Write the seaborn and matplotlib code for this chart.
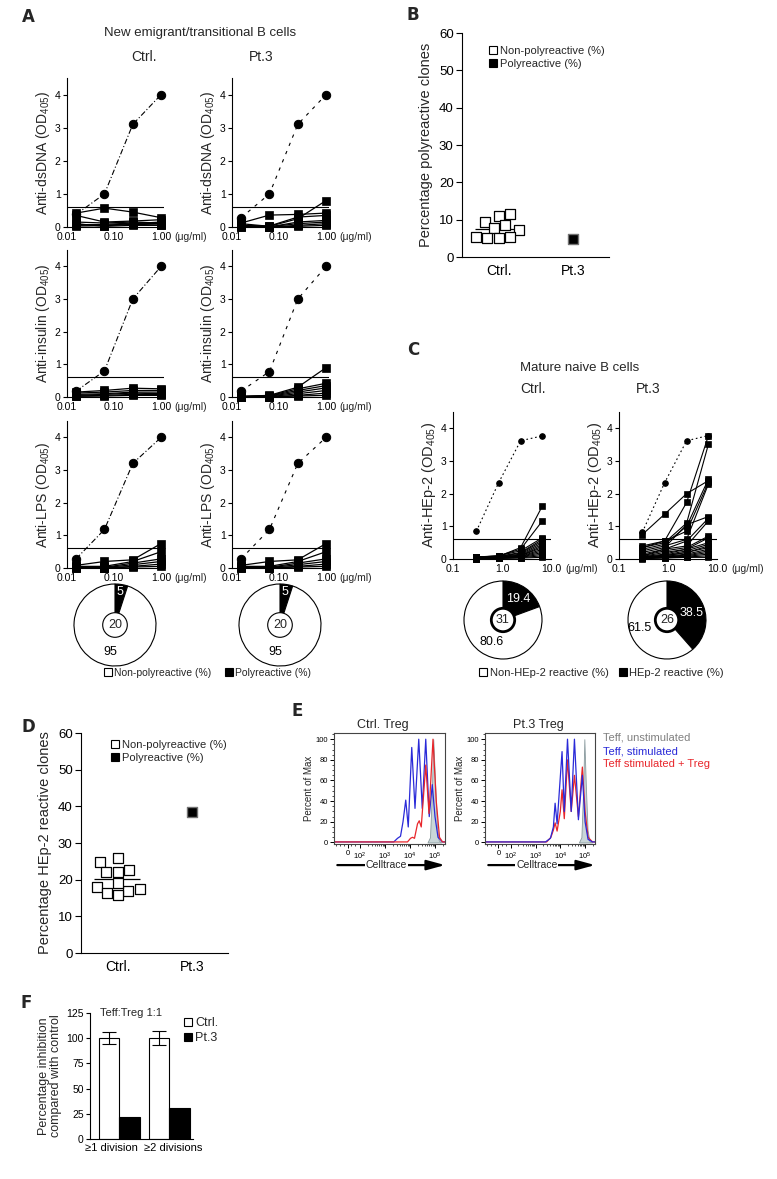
import numpy as np
import pandas as pd
import matplotlib
matplotlib.use("Agg")
import matplotlib.pyplot as plt
import seaborn as sns
from matplotlib.lines import Line2D
from matplotlib.patches import Circle
from matplotlib.ticker import NullLocator, FixedLocator, MultipleLocator

sns.set_style("ticks")
plt.rcParams["font.family"] = ["Liberation Sans", "DejaVu Sans"]
plt.rcParams["mathtext.default"] = "regular"
plt.rcParams["axes.linewidth"] = 0.8
plt.rcParams["axes.edgecolor"] = "black"
plt.rcParams["xtick.color"] = "black"
plt.rcParams["ytick.color"] = "black"

W, H = 777, 1179

# ---------------- data ----------------
# A: new emigrant/transitional B cells (OD405 vs antibody concentration)
a_conc = [0.0156, 0.0625, 0.25, 1.0]
dsdna_ctrl_pos = [0.38, 1.0, 3.1, 4.0]
dsdna_ctrl_clones = [
    [0.42, 0.57, 0.45, 0.28],
    [0.35, 0.15, 0.18, 0.22],
    [0.15, 0.12, 0.15, 0.12],
    [0.08, 0.05, 0.10, 0.15],
    [0.05, 0.08, 0.12, 0.10],
    [0.10, 0.02, 0.05, 0.05],
    [0.03, 0.04, 0.08, 0.06],
]
dsdna_pt_pos = [0.28, 1.0, 3.1, 4.0]
dsdna_pt_clones = [
    [0.12, 0.36, 0.38, 0.42],
    [0.10, 0.02, 0.25, 0.80],
    [0.05, 0.03, 0.30, 0.35],
    [0.03, 0.00, 0.15, 0.20],
    [0.02, 0.01, 0.10, 0.15],
    [0.01, 0.00, 0.05, 0.10],
    [0.00, 0.00, 0.02, 0.05],
]
insulin_ctrl_pos = [0.18, 0.80, 3.0, 4.0]
insulin_ctrl_clones = [
    [0.15, 0.20, 0.27, 0.25],
    [0.12, 0.15, 0.20, 0.20],
    [0.08, 0.10, 0.15, 0.15],
    [0.05, 0.08, 0.12, 0.10],
    [0.03, 0.05, 0.08, 0.08],
    [0.02, 0.03, 0.05, 0.05],
]
insulin_pt_pos = [0.18, 0.78, 3.0, 4.0]
insulin_pt_clones = [
    [0.02, 0.05, 0.30, 0.90],
    [0.02, 0.04, 0.25, 0.42],
    [0.01, 0.03, 0.20, 0.35],
    [0.01, 0.02, 0.15, 0.28],
    [0.00, 0.01, 0.10, 0.20],
    [0.00, 0.00, 0.05, 0.12],
    [0.00, 0.00, 0.03, 0.05],
]
lps_ctrl_pos = [0.28, 1.18, 3.2, 4.0]
lps_ctrl_clones = [
    [0.08, 0.20, 0.25, 0.75],
    [0.05, 0.05, 0.20, 0.50],
    [0.03, 0.02, 0.15, 0.28],
    [0.02, 0.01, 0.10, 0.20],
    [0.01, 0.00, 0.05, 0.12],
    [0.00, 0.00, 0.03, 0.05],
]
lps_pt_pos = [0.28, 1.18, 3.2, 4.0]
lps_pt_clones = [
    [0.08, 0.20, 0.25, 0.75],
    [0.05, 0.05, 0.20, 0.50],
    [0.03, 0.02, 0.15, 0.28],
    [0.02, 0.01, 0.10, 0.20],
    [0.01, 0.00, 0.05, 0.12],
    [0.00, 0.00, 0.03, 0.05],
]
a_pie_ctrl = [5, 95]
a_pie_pt = [5, 95]
a_n_ctrl, a_n_pt = "20", "20"

# B: percentage polyreactive clones
b_ctrl = [11.1, 9.5, 11.4, 8.5, 7.7, 7.2, 5.3, 5.3, 5.0, 5.0]
b_pt = [4.8]

# C: mature naive B cells, anti-HEp-2
c_conc = [0.3, 0.85, 2.4, 6.7]
hep_ctrl_pos = [0.85, 2.33, 3.62, 3.77]
hep_ctrl_clones = [
    [0.07, 0.08, 0.35, 1.63],
    [0.06, 0.10, 0.30, 1.17],
    [0.05, 0.10, 0.25, 0.65],
    [0.05, 0.08, 0.20, 0.60],
    [0.04, 0.07, 0.18, 0.55],
    [0.04, 0.06, 0.15, 0.50],
    [0.03, 0.06, 0.12, 0.45],
    [0.03, 0.05, 0.10, 0.40],
    [0.03, 0.05, 0.10, 0.35],
    [0.02, 0.04, 0.08, 0.30],
    [0.02, 0.04, 0.07, 0.25],
    [0.02, 0.03, 0.06, 0.20],
    [0.01, 0.03, 0.05, 0.15],
    [0.01, 0.02, 0.04, 0.10],
    [0.01, 0.02, 0.03, 0.05],
]
hep_pt_pos = [0.82, 2.33, 3.62, 3.78]
hep_pt_clones = [
    [0.75, 1.37, 2.00, 2.40],
    [0.40, 0.55, 1.73, 3.78],
    [0.35, 0.50, 1.10, 3.52],
    [0.30, 0.45, 1.00, 2.45],
    [0.35, 0.55, 0.85, 2.35],
    [0.25, 0.40, 0.60, 2.30],
    [0.20, 0.35, 1.05, 1.30],
    [0.15, 0.30, 0.55, 1.25],
    [0.10, 0.30, 0.40, 1.17],
    [0.10, 0.25, 0.35, 0.70],
    [0.08, 0.20, 0.30, 0.65],
    [0.07, 0.15, 0.30, 0.50],
    [0.06, 0.12, 0.25, 0.45],
    [0.05, 0.10, 0.20, 0.40],
    [0.05, 0.10, 0.20, 0.35],
    [0.04, 0.08, 0.15, 0.30],
    [0.03, 0.07, 0.12, 0.25],
    [0.03, 0.06, 0.10, 0.20],
    [0.02, 0.05, 0.08, 0.15],
    [0.02, 0.04, 0.06, 0.10],
    [0.01, 0.03, 0.05, 0.05],
]
c_pie_ctrl = [19.4, 80.6]
c_pie_pt = [38.5, 61.5]
c_n_ctrl, c_n_pt = "31", "26"

# D: percentage HEp-2 reactive clones
d_ctrl = [24.7, 22.2, 25.8, 22.2, 22.7, 17.0, 18.0, 19.0, 17.4, 15.7, 16.3]
d_pt = [38.5]

# E: Celltrace dilution histograms (x in log10 decades, y percent of max)
e_ctrl_blue_x = [0.96, 3.35, 3.5, 3.62, 3.72, 3.83, 3.93, 4.07, 4.2, 4.35, 4.49, 4.63, 4.77, 4.89, 5.0, 5.12, 5.3, 5.4]
e_ctrl_blue_y = [0.5, 0.5, 4, 6, 20, 41, 15, 92, 33, 100, 33, 100, 25, 56, 25, 5, 0.5, 0.5]
e_ctrl_red_x = [0.96, 3.9, 4.02, 4.1, 4.18, 4.3, 4.37, 4.45, 4.63, 4.76, 4.92, 5.05, 5.18, 5.3, 5.4]
e_ctrl_red_y = [0.5, 0.5, 4, 5, 4, 18, 21, 15, 75, 28, 100, 40, 5, 0.5, 0.5]
e_ctrl_gray_x = [4.7, 4.8, 4.87, 4.93, 5.0, 5.08, 5.15, 5.25]
e_ctrl_gray_y = [0, 5, 45, 100, 60, 15, 2, 0]
e_pt_blue_x = [0.96, 3.4, 3.6, 3.72, 3.79, 3.87, 4.07, 4.16, 4.29, 4.44, 4.57, 4.73, 4.89, 5.0, 5.12, 5.3, 5.4]
e_pt_blue_y = [0.5, 0.5, 4, 15, 38, 18, 88, 30, 100, 30, 100, 22, 65, 20, 3, 0.5, 0.5]
e_pt_red_x = [0.96, 3.45, 3.62, 3.72, 3.79, 3.87, 4.0, 4.07, 4.16, 4.29, 4.44, 4.57, 4.73, 4.89, 5.0, 5.12, 5.3, 5.4]
e_pt_red_y = [0.5, 0.5, 5, 12, 19, 11, 30, 51, 23, 80, 30, 65, 25, 73, 30, 5, 0.5, 0.5]
e_pt_gray_x = [4.75, 4.85, 4.92, 4.97, 5.03, 5.1, 5.18, 5.28]
e_pt_gray_y = [0, 5, 50, 100, 55, 12, 1, 0]

# F: percentage inhibition
f_division = ["\u22651 division", "\u22652 divisions"]
f_ctrl = [100, 100]
f_ctrl_sd = [6, 7]
f_pt = [22, 31]

# ---------------- helpers ----------------
fig = plt.figure(figsize=(W / 100, H / 100), dpi=100)


def add_ax(l, t, r, b):
    return fig.add_axes([l / W, 1 - b / H, (r - l) / W, (b - t) / H])


def ftext(x, y, s, **kw):
    kw.setdefault("ha", "center")
    kw.setdefault("va", "center")
    fig.text(x / W, 1 - y / H, s, **kw)


def clone_frame(conc, clones):
    rows = [(i, c, v) for i, vals in enumerate(clones) for c, v in zip(conc, vals)]
    return pd.DataFrame(rows, columns=["clone", "conc", "od"])


def elisa(ax, conc, pos, clones, xlim, xticks, xticklabels, ylabel,
          sq, circ, lw, pos_ls, unit_off, ylab_fs):
    ax.set_xscale("log")
    ax.axhline(0.6, color="black", lw=0.8, zorder=1)
    sns.lineplot(x=conc, y=pos, color="black", lw=0.8, linestyle=pos_ls,
                 marker="o", markersize=circ, markeredgecolor="black",
                 clip_on=False, ax=ax)
    sns.lineplot(data=clone_frame(conc, clones), x="conc", y="od", units="clone",
                 estimator=None, color="black", lw=lw, marker="s", markersize=sq,
                 markeredgecolor="black", markeredgewidth=0.5, clip_on=False,
                 legend=False, ax=ax)
    ax.set_xlim(xlim)
    ax.set_ylim(0, 4.5)
    ax.set_yticks([0, 1, 2, 3, 4])
    ax.set_xticks(xticks)
    ax.set_xticklabels(xticklabels)
    ax.xaxis.set_minor_locator(NullLocator())
    ax.tick_params(axis="x", length=0, pad=3.5, labelsize=7.5)
    ax.tick_params(axis="y", length=3, width=0.8, pad=1.5, labelsize=7.5)
    ax.set_xlabel("")
    ax.set_ylabel(ylabel, fontsize=ylab_fs, labelpad=2)
    ax.annotate("(\u03bcg/ml)", xy=(xticks[-1], 0), xycoords=("data", "axes fraction"),
                xytext=(unit_off, -3.5), textcoords="offset points", ha="left",
                va="top", fontsize=7.5)
    sns.despine(ax=ax)


def pie(cx, cy, r, values, center, inner_lw, labels):
    rb = r * 1.04
    ax = add_ax(cx - rb, cy - rb, cx + rb, cy + rb)
    ax.pie(values, colors=["black", "white"], startangle=90, counterclock=False,
           radius=1, wedgeprops=dict(edgecolor="black", linewidth=0.8))
    ax.add_patch(Circle((0, 0), 0.3, facecolor="white", edgecolor="black",
                        lw=inner_lw, zorder=5))
    ax.text(0, 0, center, ha="center", va="center", fontsize=9, zorder=6)
    for (x, y, s, col) in labels:
        ax.text(x, y, s, ha="center", va="center", color=col, fontsize=9, zorder=6)
    ax.set_xlim(-1.04, 1.04)
    ax.set_ylim(-1.04, 1.04)
    ax.set_aspect("equal")
    ax.axis("off")


def scatter_panel(ax, ctrl_vals, pt_vals, ylabel):
    df = pd.DataFrame({"group": ["Ctrl."] * len(ctrl_vals) + ["Pt.3"] * len(pt_vals),
                       "value": ctrl_vals + pt_vals})
    order = ["Ctrl.", "Pt.3"]
    ax.hlines(np.mean(ctrl_vals), -0.33, 0.3, color="black", lw=0.9, zorder=1)
    sns.swarmplot(data=df[df.group == "Ctrl."], x="group", y="value", order=order,
                  marker="s", size=7, color="white", edgecolor="black", linewidth=0.9,
                  ax=ax, zorder=3)
    ax.collections[-1].set_facecolor("none")
    ax.collections[-1].set_edgecolor("black")
    sns.swarmplot(data=df[df.group == "Pt.3"], x="group", y="value", order=order,
                  marker="s", size=7, color="black", edgecolor="0.45", linewidth=1.0,
                  ax=ax, zorder=3)
    ax.collections[-1].set_facecolor("black")
    ax.collections[-1].set_edgecolor("0.45")
    ax.set_xlim(-0.5, 1.49)
    ax.set_ylim(0, 60)
    ax.set_yticks(range(0, 61, 10))
    ax.tick_params(axis="x", length=0, pad=5, labelsize=10)
    ax.tick_params(axis="y", length=4, width=0.8, pad=2, labelsize=9.5)
    ax.set_xlabel("")
    ax.set_ylabel(ylabel, fontsize=10.5, labelpad=4)
    sns.despine(ax=ax)


def sq_handle(face):
    return Line2D([], [], ls="", marker="s", markerfacecolor=face,
                  markeredgecolor="black", markersize=6, markeredgewidth=0.8)


def legend_at(target, x, y, labels, fs, faces=("white", "black"), **kw):
    target.legend([sq_handle(f) for f in faces], labels, loc=kw.pop("loc", "upper left"),
                  bbox_to_anchor=(x / W, 1 - y / H), bbox_transform=fig.transFigure,
                  frameon=False, fontsize=fs, handletextpad=0.15, handlelength=0.9,
                  borderpad=0, borderaxespad=0, labelspacing=0.25, **kw)


def flow(ax, gray, first, second):
    ax.fill_between(gray[0], gray[1], color="#c9d6d8", edgecolor="#8a9a9e", lw=0.6)
    for xs, ys, col in (first, second):
        sns.lineplot(x=xs, y=ys, color=col, lw=0.9, sort=False, ax=ax)
    ax.set_xlim(0.96, 5.4)
    ax.set_ylim(-1.5, 106)
    ax.set_xticks([1.5, 2, 3, 4, 5])
    ax.set_xticklabels(["0", "$10^2$", "$10^3$", "$10^4$", "$10^5$"])
    minors = [d + np.log10(k) for d in (2, 3, 4, 5) for k in range(2, 10)
              if d + np.log10(k) < 5.4] + [1.05, 1.2, 1.35, 1.65, 1.8]
    ax.xaxis.set_minor_locator(FixedLocator(minors))
    ax.set_yticks(range(0, 101, 20))
    ax.yaxis.set_minor_locator(MultipleLocator(5))
    ax.tick_params(which="major", length=3, width=0.7, pad=1.5, labelsize=5.5)
    ax.tick_params(which="minor", length=1.5, width=0.5)
    ax.set_ylabel("Percent of Max", fontsize=7, labelpad=1)
    ax.set_xlabel("")
    for sp in ax.spines.values():
        sp.set_color("#444444")
        sp.set_linewidth(0.8)
    ax.annotate("", xy=(1.0, -0.19), xytext=(0.03, -0.19), xycoords="axes fraction",
                arrowprops=dict(arrowstyle="-|>,head_length=1.1,head_width=0.3",
                                lw=1.6, color="black", mutation_scale=10,
                                shrinkA=0, shrinkB=0))
    ax.text(0.47, -0.19, "Celltrace", transform=ax.transAxes, ha="center", va="center",
            fontsize=7.5, bbox=dict(facecolor="white", edgecolor="none", pad=0.6))


# ---------------- panel A ----------------
ftext(28, 17, "A", fontsize=12, fontweight="heavy", family="DejaVu Sans")
ftext(200, 33, "New emigrant/transitional B cells", fontsize=9.5)
ftext(144, 57, "Ctrl.", fontsize=10)
ftext(261, 57, "Pt.3", fontsize=10)

a_rows = [(78, 227), (250, 397), (421, 568)]
a_cols = [(67, 164), (232, 329)]
a_sets = [
    ("Anti-dsDNA (OD$_{405}$)", (dsdna_ctrl_pos, dsdna_ctrl_clones), (dsdna_pt_pos, dsdna_pt_clones)),
    ("Anti-insulin (OD$_{405}$)", (insulin_ctrl_pos, insulin_ctrl_clones), (insulin_pt_pos, insulin_pt_clones)),
    ("Anti-LPS (OD$_{405}$)", (lps_ctrl_pos, lps_ctrl_clones), (lps_pt_pos, lps_pt_clones)),
]
for (top, bot), (ylab, ctrl_set, pt_set) in zip(a_rows, a_sets):
    for (left, right), (pos, clones), ls in zip(a_cols, (ctrl_set, pt_set),
                                                 [(0, (5, 2, 1, 2)), (0, (3, 5))]):
        ax = add_ax(left, top, right, bot)
        elisa(ax, a_conc, pos, clones, (0.01, 1.15), [0.01, 0.1, 1.0],
              ["0.01", "0.10", "1.00"], ylab, sq=5.5, circ=6, lw=0.9, pos_ls=ls,
              unit_off=9.5, ylab_fs=10)

pie(115, 625, 41, a_pie_ctrl, a_n_ctrl, 0.8,
    [(0.13, 0.8, "5", "white"), (-0.12, -0.67, "95", "black")])
pie(280, 625, 41, a_pie_pt, a_n_pt, 0.8,
    [(0.13, 0.8, "5", "white"), (-0.12, -0.67, "95", "black")])
legend_at(fig, 207, 673, ["Non-polyreactive (%)", "Polyreactive (%)"], 7.5,
          loc="center", ncol=2, columnspacing=1.2)

# ---------------- panel B ----------------
ftext(413, 15, "B", fontsize=12, fontweight="heavy", family="DejaVu Sans")
axb = add_ax(462, 33, 609, 257)
scatter_panel(axb, b_ctrl, b_pt, "Percentage polyreactive clones")
legend_at(axb, 488, 46, ["Non-polyreactive (%)", "Polyreactive (%)"], 8)

# ---------------- panel C ----------------
ftext(413, 350, "C", fontsize=12, fontweight="heavy", family="DejaVu Sans")
ftext(580, 368, "Mature naive B cells", fontsize=9.5)
ftext(533, 389, "Ctrl.", fontsize=10)
ftext(648, 389, "Pt.3", fontsize=10)
for (left, right), pos, clones in zip([(453, 551), (619, 717)],
                                      [hep_ctrl_pos, hep_pt_pos],
                                      [hep_ctrl_clones, hep_pt_clones]):
    ax = add_ax(left, 412, right, 559)
    elisa(ax, c_conc, pos, clones, (0.1, 10), [0.1, 1.0, 10.0],
          ["0.1", "1.0", "10.0"], "Anti-HEp-2 (OD$_{405}$)", sq=4, circ=4,
          lw=0.8, pos_ls=(0, (1.5, 2.5)), unit_off=10, ylab_fs=10.5)

pie(503, 620, 39, c_pie_ctrl, c_n_ctrl, 2.0,
    [(0.38, 0.53, "19.4", "white"), (-0.28, -0.57, "80.6", "black")])
pie(667, 620, 39, c_pie_pt, c_n_pt, 2.0,
    [(0.64, 0.17, "38.5", "white"), (-0.7, -0.2, "61.5", "black")])
legend_at(fig, 601, 673, ["Non-HEp-2 reactive (%)", "HEp-2 reactive (%)"], 8,
          loc="center", ncol=2, columnspacing=0.8)

# ---------------- panel D ----------------
ftext(28, 727, "D", fontsize=12, fontweight="heavy", family="DejaVu Sans")
axd = add_ax(81, 733, 228, 953)
scatter_panel(axd, d_ctrl, d_pt, "Percentage HEp-2 reactive clones")
legend_at(axd, 110, 740, ["Non-polyreactive (%)", "Polyreactive (%)"], 8)

# ---------------- panel E ----------------
ftext(297, 711, "E", fontsize=12, fontweight="heavy", family="DejaVu Sans")
ftext(383, 725, "Ctrl. Treg", fontsize=9)
ftext(538, 725, "Pt.3 Treg", fontsize=9)
blue, red = "#2a2ad8", "#e8262b"
axe1 = add_ax(334, 733, 445, 844)
flow(axe1, (e_ctrl_gray_x, e_ctrl_gray_y),
     (e_ctrl_blue_x, e_ctrl_blue_y, blue), (e_ctrl_red_x, e_ctrl_red_y, red))
axe2 = add_ax(485, 733, 595, 844)
flow(axe2, (e_pt_gray_x, e_pt_gray_y),
     (e_pt_red_x, e_pt_red_y, red), (e_pt_blue_x, e_pt_blue_y, blue))
ftext(603, 738, "Teff, unstimulated", ha="left", fontsize=8, color="#808080")
ftext(603, 751, "Teff, stimulated", ha="left", fontsize=8, color=blue)
ftext(603, 764, "Teff stimulated + Treg", ha="left", fontsize=8, color=red)

# ---------------- panel F ----------------
ftext(26, 1003, "F", fontsize=12, fontweight="heavy", family="DejaVu Sans")
axf = add_ax(90, 1013, 193, 1139)
df_f = pd.DataFrame({"division": f_division * 2,
                     "group": ["Ctrl."] * 2 + ["Pt.3"] * 2,
                     "pct": f_ctrl + f_pt})
sns.barplot(data=df_f, x="division", y="pct", hue="group", order=f_division,
            hue_order=["Ctrl.", "Pt.3"], palette={"Ctrl.": "white", "Pt.3": "black"},
            edgecolor="black", linewidth=0.8, width=0.82, gap=0, errorbar=None,
            legend=False, ax=axf)
axf.errorbar(np.arange(2) - 0.205, f_ctrl, yerr=f_ctrl_sd, fmt="none", ecolor="black",
             elinewidth=0.8, capsize=5, capthick=0.8)
axf.set_xticks([-0.15, 1.08])
axf.set_xticklabels(f_division)
axf.set_xlim(-0.58, 1.48)
axf.set_ylim(0, 125)
axf.set_yticks(range(0, 126, 25))
axf.tick_params(axis="x", length=0, pad=3, labelsize=8)
axf.tick_params(axis="y", length=3, width=0.8, pad=1.5, labelsize=7.5)
axf.set_xlabel("")
axf.set_ylabel("Percentage inhibition\ncompared with control", fontsize=9,
               labelpad=3, linespacing=1.05)
axf.text(0.4, 1.0, "Teff:Treg 1:1", transform=axf.transAxes, ha="center", va="center",
         fontsize=8)
sns.despine(ax=axf)
legend_at(axf, 182, 1017, ["Ctrl.", "Pt.3"], 9)

fig.savefig("out.png", dpi=100)
